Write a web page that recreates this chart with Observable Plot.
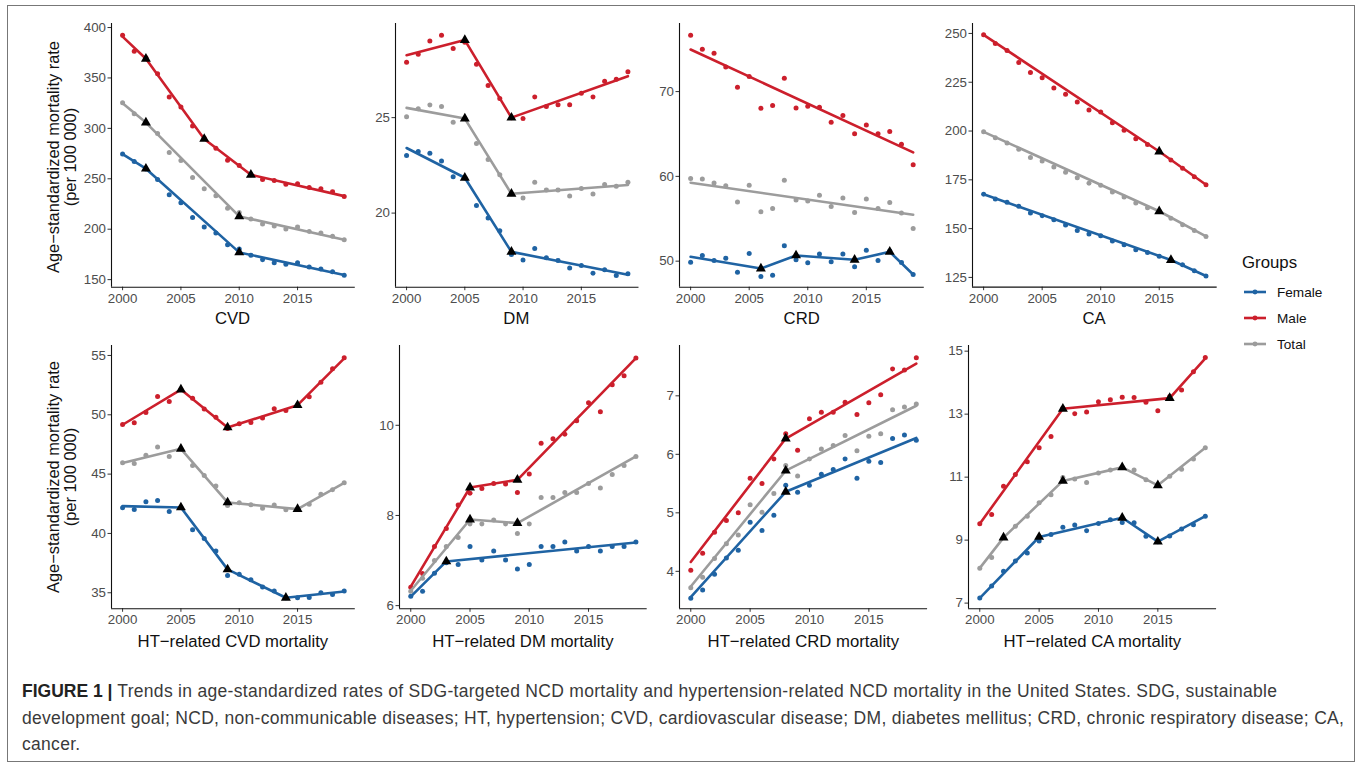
<!DOCTYPE html>
<html><head><meta charset="utf-8">
<script src="https://cdn.jsdelivr.net/npm/d3@7"></script>
<script src="https://cdn.jsdelivr.net/npm/@observablehq/plot@0.6"></script>
<style>
body{margin:0;background:#fff;font-family:"Liberation Sans",Arial,sans-serif;}
#fig{position:relative;width:1360px;height:763px;overflow:hidden;background:#fff;}
.frame{position:absolute;left:7px;top:5px;width:1348px;height:757px;border:1px solid #777;box-sizing:border-box;}
.t{position:absolute;white-space:nowrap;color:#111;}
.cap{position:absolute;left:22px;top:678px;width:1330px;font-family:"Liberation Sans",Arial,sans-serif;font-size:17.5px;letter-spacing:0.3px;line-height:26.5px;color:#3a3a3a;white-space:nowrap;}
.cap b{color:#222;letter-spacing:0;}
</style></head>
<body><div id="fig"><div class="frame"></div></div>
<script>
const years = [2000,2001,2002,2003,2004,2005,2006,2007,2008,2009,2010,2011,2012,2013,2014,2015,2016,2017,2018,2019];
const groups = ["Female","Male","Total"];
const colors = ["#1f63a3","#cc1f2c","#9c9c9c"];
const xTicks = [2000,2005,2010,2015];

// CVD
const cvdFemale = [274.7,267.1,259.8,249.3,234.1,226.2,211.7,202.1,196.2,184.6,180.3,174.1,169.8,166.8,165.2,166.8,162.5,160.6,157.9,154.3];
const cvdMale = [392.4,376.6,370,354.2,331.1,321.2,302.4,290.2,280.3,268.4,263.1,253.9,249.3,248.3,244.7,245,241.4,240,237.1,232.5];
const cvdTotal = [325.5,314.6,305.7,294.8,276,268.1,251.3,240,233.1,220.9,216.6,210,205.1,203.1,200.1,202.1,197.8,196.2,192.9,189.6];
const cvdFemaleFit = [[2000,274.5],[2002,260],[2010,177],[2019,154.5]];
const cvdMaleFit = [[2000,391],[2002,369],[2007,289.5],[2011,254],[2019,232.8]];
const cvdTotalFit = [[2000,325],[2002,305.7],[2010,212.7],[2019,189.5]];
const cvdTicks = [150,200,250,300,350,400];

// DM
const dmFemale = [23.02,23.23,23.13,22.73,21.91,21.84,20.40,19.74,19.07,17.83,17.55,18.15,17.66,17.52,17.13,17.26,16.85,17.03,16.73,16.82];
const dmMale = [27.90,28.32,29.02,29.32,28.62,28.95,27.80,26.68,26.0,25.0,24.95,26.08,25.58,25.68,25.68,26.28,26.08,26.91,27.01,27.40];
const dmTotal = [25.05,25.47,25.66,25.58,24.76,24.95,23.65,22.81,22.01,21.01,20.79,21.61,21.21,21.21,20.89,21.29,21.0,21.50,21.40,21.61];
const dmFemaleFit = [[2000,23.41],[2005,21.85],[2009,17.97],[2019,16.77]];
const dmMaleFit = [[2000,28.27],[2005,29.06],[2009,25.0],[2019,27.17]];
const dmTotalFit = [[2000,25.51],[2005,24.95],[2009,21.01],[2019,21.47]];
const dmTicks = [20,25];

// CRD
const crdFemale = [49.88,50.67,50.08,50.35,48.70,50.91,48.19,48.35,51.81,50.16,49.80,50.83,49.92,50.83,49.33,51.30,50.08,51.2,49.84,48.43];
const crdMale = [76.65,75.0,74.53,72.91,70.51,71.77,68.03,68.35,71.57,68.07,68.27,68.15,66.38,67.17,65.04,66.06,65.04,65.28,63.78,61.38];
const crdTotal = [59.76,59.69,59.21,58.9,56.97,58.94,55.83,56.22,59.53,57.2,57.09,57.76,56.46,57.44,55.75,57.32,56.22,56.93,55.67,53.86];
const crdFemaleFit = [[2000,50.51],[2006,49.13],[2009,50.67],[2014,50.16],[2017,51.10],[2019,48.43]];
const crdMaleFit = [[2000,74.96],[2019,62.83]];
const crdTotalFit = [[2000,59.25],[2019,55.47]];
const crdTicks = [50,60,70];

// CA
const caFemale = [167.6,165.2,163.5,161.4,158.0,156.6,154.6,151.8,149.1,147.2,146.4,143.6,141.8,139.2,137.8,135.9,134.1,131.5,128.4,125.7];
const caMale = [249.3,244.9,241.3,235.1,230.0,227.3,222.0,218.9,214.9,210.8,209.8,204.2,200.4,196.1,193.1,189.5,185.2,180.9,176.6,172.5];
const caTotal = [199.6,196.5,193.9,190.7,186.4,184.7,181.6,178.9,176.1,173.2,172.2,168.8,166.2,163.1,160.7,159.0,155.3,152.0,149.1,146.0];
const caFemaleFit = [[2000,167.6],[2016,133.9],[2019,125.7]];
const caMaleFit = [[2000,249.3],[2015,189.5],[2019,172.5]];
const caTotalFit = [[2000,199.6],[2015,158.9],[2019,146.0]];
const caTicks = [125,150,175,200,225,250];

// HT-related CVD
const htCvdFemale = [42.16,42.02,42.67,42.78,41.85,42.19,40.31,39.58,38.51,36.46,36.57,36.10,35.48,35.14,34.58,34.58,34.61,35.0,34.86,35.14];
const htCvdMale = [49.19,49.33,50.20,51.54,51.12,52.13,51.40,50.48,49.80,48.85,49.24,49.35,49.72,50.51,50.37,50.81,51.52,52.75,53.88,54.80];
const htCvdTotal = [45.96,45.90,46.60,47.28,46.49,47.13,45.73,44.89,44.0,42.36,42.58,42.42,42.13,42.39,41.99,42.05,42.47,43.31,43.68,44.27];
const htCvdFemaleFit = [[2000,42.30],[2005,42.19],[2009,36.97],[2014,34.58],[2019,35.11]];
const htCvdMaleFit = [[2000,49.16],[2005,52.13],[2009,48.93],[2015,50.81],[2019,54.75]];
const htCvdTotalFit = [[2000,45.93],[2005,47.13],[2009,42.61],[2015,42.05],[2019,44.27]];
const htCvdTicks = [35,40,45,50,55];

// HT-related DM
const htDmFemale = [6.21,6.32,6.72,6.95,6.91,7.31,7.01,7.21,7.01,6.81,6.91,7.31,7.31,7.41,7.21,7.31,7.21,7.31,7.31,7.41];
const htDmMale = [6.41,6.71,7.31,7.71,8.23,8.49,8.60,8.71,8.70,8.51,8.92,9.60,9.70,9.80,10.10,10.50,10.30,10.90,11.10,11.49];
const htDmTotal = [6.32,6.61,7.0,7.31,7.51,7.81,7.81,7.90,7.81,7.60,7.81,8.40,8.40,8.51,8.51,8.71,8.61,8.91,9.11,9.31];
const htDmFemaleFit = [[2000,6.20],[2003,6.98],[2019,7.40]];
const htDmMaleFit = [[2000,6.42],[2005,8.62],[2009,8.79],[2019,11.49]];
const htDmTotalFit = [[2000,6.33],[2005,7.91],[2009,7.83],[2019,9.31]];
const htDmTicks = [6,8,10];

// HT-related CRD
const htCrdFemale = [3.54,3.68,3.95,4.23,4.36,4.84,4.70,4.96,5.47,5.35,5.47,5.66,5.74,5.92,5.59,5.88,5.86,6.27,6.33,6.24];
const htCrdMale = [4.02,4.31,4.67,4.87,5.0,5.59,5.50,5.92,6.35,6.07,6.61,6.72,6.72,6.89,6.68,6.88,7.02,7.46,7.44,7.65];
const htCrdTotal = [3.72,3.90,4.22,4.47,4.62,5.14,5.01,5.33,5.81,5.63,5.92,6.09,6.15,6.32,6.06,6.31,6.35,6.76,6.81,6.86];
const htCrdFemaleFit = [[2000,3.56],[2008,5.36],[2019,6.28]];
const htCrdMaleFit = [[2000,4.16],[2008,6.27],[2019,7.55]];
const htCrdTotalFit = [[2000,3.74],[2008,5.72],[2019,6.83]];
const htCrdTicks = [4,5,6,7];

// HT-related CA
const htCaFemale = [7.16,7.54,8.01,8.34,8.59,8.97,9.18,9.41,9.48,9.30,9.53,9.65,9.56,9.55,9.12,8.95,9.13,9.35,9.49,9.76];
const htCaMale = [9.52,9.81,10.71,11.08,11.49,11.93,12.29,13.19,13.01,13.07,13.39,13.46,13.54,13.53,13.38,13.11,13.56,13.77,14.35,14.80];
const htCaTotal = [8.11,8.45,9.08,9.44,9.76,10.19,10.44,10.99,10.94,10.83,11.13,11.23,11.31,11.23,10.92,10.74,11.03,11.25,11.58,11.93];
const htCaFemaleFit = [[2000,7.16],[2005,9.10],[2012,9.71],[2015,8.95],[2019,9.76]];
const htCaMaleFit = [[2000,9.52],[2007,13.17],[2016,13.51],[2019,14.77]];
const htCaTotalFit = [[2000,8.11],[2002,9.08],[2007,10.88],[2012,11.31],[2015,10.74],[2019,11.93]];
const htCaTicks = [7,9,11,13,15];

const panelTitles = ["CVD","DM","CRD","CA","HT\u2212related CVD mortality","HT\u2212related DM mortality","HT\u2212related CRD mortality","HT\u2212related CA mortality"];
const yTitle = ["Age\u2212standardized mortality rate","(per 100 000)"];
const legendTitle = "Groups";

const fig = document.getElementById("fig");
const FONT = '"Liberation Sans", Arial, sans-serif';

const panels = [
  {series:[cvdFemale,cvdMale,cvdTotal], fits:[cvdFemaleFit,cvdMaleFit,cvdTotalFit], ticks:cvdTicks, domain:[142.5,404], left:110.6, right:354.4, top:23.3, bottom:287},
  {series:[dmFemale,dmMale,dmTotal], fits:[dmFemaleFit,dmMaleFit,dmTotalFit], ticks:dmTicks, domain:[16.12,29.93], left:394.6, right:638.1, top:23.3, bottom:287},
  {series:[crdFemale,crdMale,crdTotal], fits:[crdFemaleFit,crdMaleFit,crdTotalFit], ticks:crdTicks, domain:[46.93,78.03], left:679.3, right:924.1, top:23.3, bottom:287},
  {series:[caFemale,caMale,caTotal], fits:[caFemaleFit,caMaleFit,caTotalFit], ticks:caTicks, domain:[120,255.1], left:971.7, right:1216.4, top:23.3, bottom:287},
  {series:[htCvdFemale,htCvdMale,htCvdTotal], fits:[htCvdFemaleFit,htCvdMaleFit,htCvdTotalFit], ticks:htCvdTicks, domain:[33.65,55.84], left:111, right:354.8, top:345, bottom:608.3},
  {series:[htDmFemale,htDmMale,htDmTotal], fits:[htDmFemaleFit,htDmMaleFit,htDmTotalFit], ticks:htDmTicks, domain:[5.93,11.77], left:399, right:646.7, top:345, bottom:608.3},
  {series:[htCrdFemale,htCrdMale,htCrdTotal], fits:[htCrdFemaleFit,htCrdMaleFit,htCrdTotalFit], ticks:htCrdTicks, domain:[3.36,7.86], left:679.3, right:927.4, top:345, bottom:608.3},
  {series:[htCaFemale,htCaMale,htCaTotal], fits:[htCaFemaleFit,htCaMaleFit,htCaTotalFit], ticks:htCaTicks, domain:[6.82,15.18], left:968.3, right:1216.4, top:345, bottom:608.3}
];

function addText(txt, x, y, size, opts={}) {
  const d = document.createElement("div");
  d.className = "t";
  d.textContent = txt;
  d.style.left = x + "px";
  d.style.top = y + "px";
  d.style.fontSize = size + "px";
  d.style.transform = opts.transform || "translate(-50%,-50%)";
  if (opts.color) d.style.color = opts.color;
  fig.appendChild(d);
  return d;
}

const X0 = 1999.05, X1 = 2019.95;
panels.forEach((p, idx) => {
  const pts = [], fit = [], jp = [];
  groups.forEach((g, i) => {
    p.series[i].forEach((v, j) => pts.push({year: years[j], value: v, group: g}));
    p.fits[i].forEach(([yr, v], k, arr) => {
      fit.push({year: yr, value: v, group: g});
      if (k > 0 && k < arr.length - 1) jp.push({year: yr, value: v, group: g});
    });
  });
  const mL = 50, mR = 8, mT = 8, mB = 30;
  const w = p.right - p.left, h = p.bottom - p.top;
  const svg = Plot.plot({
    width: w + mL + mR, height: h + mT + mB,
    marginLeft: mL, marginRight: mR, marginTop: mT, marginBottom: mB,
    style: {fontFamily: FONT, fontSize: "13.3px", color: "#4d4d4d", background: "transparent", overflow: "visible"},
    x: {domain: [X0, X1]},
    y: {domain: p.domain},
    color: {domain: groups, range: colors},
    marks: [
      Plot.axisX({ticks: xTicks, tickFormat: d => String(d), tickSize: 3.5, tickPadding: 2.5, label: null, stroke: "#333"}),
      Plot.axisY({ticks: p.ticks, tickFormat: d => String(d), tickSize: 3.5, tickPadding: 2, label: null, stroke: "#333"}),
      Plot.ruleX([X0], {stroke: "#111", strokeWidth: 1.1}),
      Plot.ruleY([p.domain[0]], {stroke: "#111", strokeWidth: 1.1}),
      Plot.dot(pts, {x: "year", y: "value", fill: "group", r: 2.5}),
      Plot.line(fit, {x: "year", y: "value", z: "group", stroke: "group", strokeWidth: 2.6}),
      Plot.dot(jp, {x: "year", y: "value", symbol: "triangle", fill: "black", r: 3.7})
    ]
  });
  svg.style.position = "absolute";
  svg.style.left = (p.left - mL) + "px";
  svg.style.top = (p.top - mT) + "px";
  fig.appendChild(svg);
  const titleY = idx < 4 ? 319 : 641.5;
  addText(panelTitles[idx], (p.left + p.right) / 2, titleY, 16.7, {color: "#111"});
});

// y-axis titles
[157, 477].forEach(cy => {
  addText(yTitle[0], 53, cy, 16.4, {transform: "translate(-50%,-50%) rotate(-90deg)"});
  addText(yTitle[1], 70, cy, 16.4, {transform: "translate(-50%,-50%) rotate(-90deg)"});
});

// legend
addText(legendTitle, 1242, 263, 16.8, {transform: "translate(0,-50%)"});
const legY = [291.7, 318, 343.5];
groups.forEach((g, i) => {
  const s = document.createElementNS("http://www.w3.org/2000/svg", "svg");
  s.setAttribute("width", 24); s.setAttribute("height", 10);
  s.style.position = "absolute"; s.style.left = "1243px"; s.style.top = (legY[i] - 5) + "px";
  s.innerHTML = `<line x1="1" x2="23" y1="5" y2="5" stroke="${colors[i]}" stroke-width="2.6"/><circle cx="12" cy="5" r="2.4" fill="${colors[i]}"/>`;
  fig.appendChild(s);
  addText(g, 1277, legY[i], 13.6, {transform: "translate(0,-50%)"});
});

// caption
const cap = document.createElement("div");
cap.className = "cap";
cap.innerHTML = '<b>FIGURE 1 |</b> Trends in age-standardized rates of SDG-targeted NCD mortality and hypertension-related NCD mortality in the United States. SDG, sustainable<br>development goal; NCD, non-communicable diseases; HT, hypertension; CVD, cardiovascular disease; DM, diabetes mellitus; CRD, chronic respiratory disease; CA,<br>cancer.';
fig.appendChild(cap);
</script>
</body></html>
